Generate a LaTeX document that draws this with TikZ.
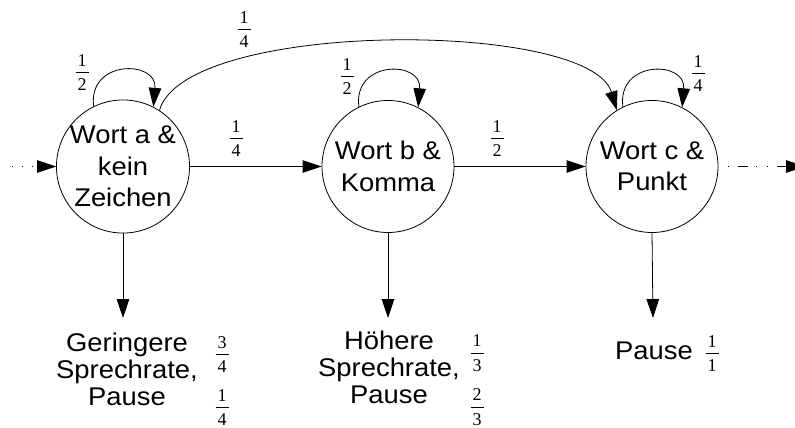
\documentclass[tikz,border=0pt]{standalone}
\usepackage{fontspec}
\setmainfont{Liberation Sans}[FakeStretch=1.07]
\newfontfamily\fracfam{Liberation Serif}
\usetikzlibrary{arrows.meta,calc}

% stacked fraction: numerator, bar, denominator
\newcommand{\fr}[2]{\vbox{%
  \hbox to 13pt{\hss\fontsize{18}{18}\fracfam\selectfont #1\hss}%
  \kern5.6pt\hrule height 0.7pt\kern6.6pt
  \hbox to 13pt{\hss\fontsize{18}{18}\fracfam\selectfont #2\hss}}}

\begin{document}
\begin{tikzpicture}[x=1pt, y=-1pt,
  >={Triangle[length=19pt,width=12.5pt]},
  state/.style={circle, draw, line width=0.8pt, minimum size=132pt,
    inner sep=0pt, align=center, font=\fontsize{25.6}{31.5}\selectfont},
  outcome/.style={align=center, inner sep=0pt,
    font=\fontsize{25.6}{27}\selectfont},
  prob/.style={inner sep=0pt},
  edge/.style={->, line width=0.8pt},
  dotline/.style={edge, dash pattern=on 1pt off 9pt},
  dashdotdot/.style={edge, dash pattern=on 10pt off 8pt on 1pt off 10pt on 1pt off 9pt, dash phase=19pt}]

\useasboundingbox (0,0) rectangle (795,428);

% states
\node[state] (c1) at (123,166.5) {Wort a \&\\kein\\Zeichen};
\node[state] (c2) at (388,166.5) {Wort b \&\\Komma};
\node[state] (c3) at (652,166.5) {Wort c \&\\Punkt};

% emissions
\node[outcome] (o1) at (127,369.7) {Geringere\\Sprechrate,\\Pause};
\node[outcome] (o2) at (389,367.8) {Höhere\\Sprechrate,\\Pause};
\node[outcome] (o3) at (654,351) {Pause};

% free ends
\coordinate (s)  at (12,166.5);
\coordinate (e)  at (805,166.5);
\coordinate (d1) at (123,318);
\coordinate (d2) at (388,318);
\coordinate (d3) at (653,318);

% transitions
\draw[dotline] (s) -- (c1.west);
\draw[edge] (c1.east) -- (c2.west);
\draw[edge] (c2.east) -- (c3.west);
\draw[dashdotdot] (c3.east) -- (e);

% self loops
\draw[edge] (c1.116) .. controls ($(c1.116)+(-6,-47)$) and ($(c1.63)+(4,-47)$) .. (c1.63);
\draw[edge] (c2.116) .. controls ($(c2.116)+(-6,-47)$) and ($(c2.63)+(4,-47)$) .. (c2.63);
\draw[edge] (c3.116) .. controls ($(c3.116)+(-6,-47)$) and ($(c3.63)+(4,-47)$) .. (c3.63);

% skip transition
\draw[edge] (c1.57) .. controls ($(c1.57)+(26,-91)$) and ($(c3.122)+(-27,-90.5)$) .. (c3.122);

% emission arrows
\draw[edge] (c1.south) -- (d1);
\draw[edge] (c2.south) -- (d2);
\draw[edge] (c3.south) -- (d3);

% probabilities
\node[prob] (p11) at (82,72.5)   {\fr{1}{2}};
\node[prob] (p22) at (347,76.5)  {\fr{1}{2}};
\node[prob] (p33) at (698,73.5)  {\fr{1}{4}};
\node[prob] (p13) at (244,29.5)  {\fr{1}{4}};
\node[prob] (p12) at (236,138.5) {\fr{1}{4}};
\node[prob] (p23) at (497,138.5) {\fr{1}{2}};
\node[prob] (q1a) at (222,354.5) {\fr{3}{4}};
\node[prob] (q1b) at (222,407.5) {\fr{1}{4}};
\node[prob] (q2a) at (477,353.5) {\fr{1}{3}};
\node[prob] (q2b) at (477,407.5) {\fr{2}{3}};
\node[prob] (q3a) at (712,353.5) {\fr{1}{1}};
\end{tikzpicture}
\end{document}
